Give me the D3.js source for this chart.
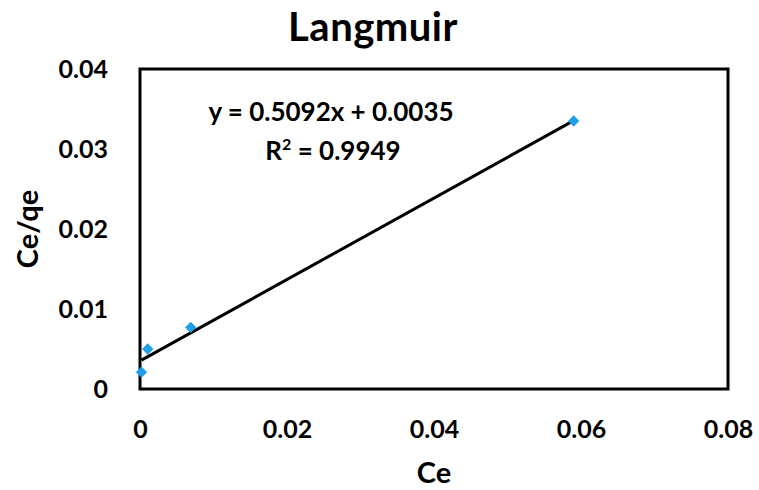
<!DOCTYPE html>
<html><head><meta charset="utf-8">
<script src="https://cdn.jsdelivr.net/npm/d3@7"></script>
<style>body{margin:0;background:#fff}svg{display:block;font-family:Lato,"Open Sans",sans-serif;font-weight:bold}</style>
</head><body>
<svg id="c" width="759" height="490"></svg>
<script>
const ceValues = [0.0002, 0.00105, 0.0069, 0.059];
const ceqeValues = [0.0021, 0.0050, 0.0077, 0.0335];
const xTicks = [0, 0.02, 0.04, 0.06, 0.08];
const yTicks = [0, 0.01, 0.02, 0.03, 0.04];
const slope = 0.5092, intercept = 0.0035;
const equationText = "y = 0.5092x + 0.0035";
const r2Text = "0.9949";

const svg = d3.select("#c");
const m = {l:140, r:728, t:69, b:389};
const x = d3.scaleLinear().domain([0,0.08]).range([m.l, m.r]);
const y = d3.scaleLinear().domain([0,0.04]).range([m.b, m.t]);
const fmt = d => d === 0 ? "0" : d3.format(".2f")(d);

svg.append("text").attr("x",373).attr("y",41).attr("text-anchor","middle")
  .attr("font-size",40).attr("letter-spacing",0.5).text("Langmuir");

svg.append("rect").attr("x",m.l).attr("y",m.t).attr("width",m.r-m.l).attr("height",m.b-m.t)
  .attr("fill","none").attr("stroke","#000").attr("stroke-width",3);

const xa = svg.append("g").attr("transform",`translate(0,${m.b})`)
  .call(d3.axisBottom(x).tickValues(xTicks).tickFormat(fmt).tickSize(0).tickPadding(31));
xa.select(".domain").remove();
xa.selectAll("text").attr("font-size",25).attr("font-family","Lato,sans-serif").attr("font-weight","bold").attr("fill","#000");

const ya = svg.append("g").attr("transform",`translate(${m.l},0)`)
  .call(d3.axisLeft(y).tickValues(yTicks).tickFormat(fmt).tickSize(0).tickPadding(32));
ya.select(".domain").remove();
ya.selectAll("text").attr("font-size",25).attr("font-family","Lato,sans-serif").attr("font-weight","bold").attr("fill","#000");

svg.append("text").attr("x",x(0.04)).attr("y",483).attr("text-anchor","middle")
  .attr("font-size",29).text("Ce");
svg.append("text").attr("transform",`translate(38,229) rotate(-90)`).attr("text-anchor","middle")
  .attr("font-size",29).text("Ce/qe");

const x0 = d3.min(ceValues), x1 = d3.max(ceValues);
svg.append("line").attr("x1",x(x0)).attr("y1",y(slope*x0+intercept))
  .attr("x2",x(x1)).attr("y2",y(slope*x1+intercept))
  .attr("stroke","#000").attr("stroke-width",3);

svg.selectAll(".pt").data(ceValues).enter().append("path")
  .attr("d", d3.symbol().type(d3.symbolSquare).size(64))
  .attr("transform",(d,i)=>`translate(${x(d)},${y(ceqeValues[i])}) rotate(45)`)
  .attr("fill","#1fa0e6");

svg.append("text").attr("x",331).attr("y",121).attr("text-anchor","middle")
  .attr("font-size",26).text(equationText);
const r = svg.append("text").attr("x",333).attr("y",160).attr("text-anchor","middle").attr("font-size",26);
r.append("tspan").text("R");
r.append("tspan").attr("dy",-10).attr("font-size",16).text("2");
r.append("tspan").attr("dy",10).text(" = " + r2Text);
</script>
</body></html>
